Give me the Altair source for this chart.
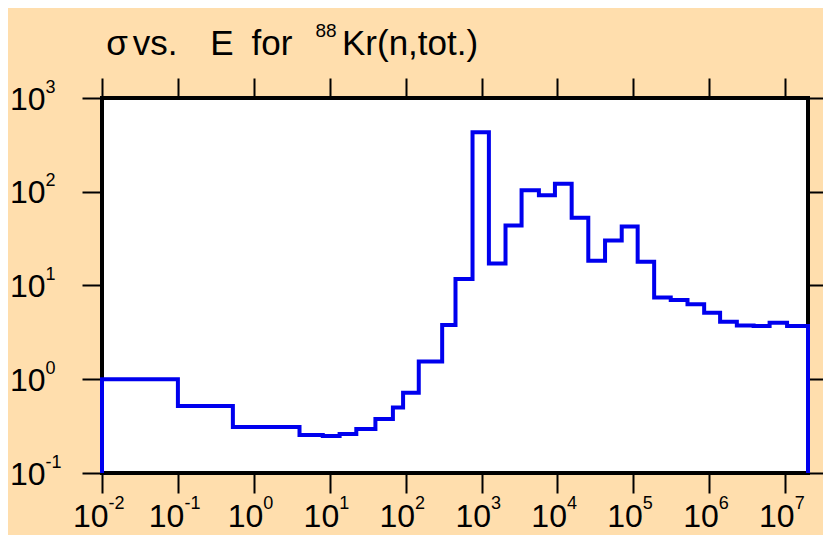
import altair as alt
import pandas as pd

# ---- data ----
# lower bin edges (eV) and total cross sections (b)
edges = [0.01, 0.1, 0.53, 4.0, 8.1, 13.5, 22.4, 40, 68, 92.6, 149, 303, 454, 761,
         1250, 2070, 3370, 5700, 9270, 15400, 25500, 42400, 70300, 114000, 188000,
         311000, 517000, 857000, 1.39e6, 2.31e6, 3.84e6, 6.24e6, 1.06e7]
sigma = [1.0, 0.52, 0.31, 0.254, 0.248, 0.26, 0.294, 0.377, 0.50, 0.72, 1.55, 3.78,
         11.7, 432, 17.2, 43.7, 104, 91.7, 122, 52.8, 18.4, 30.2, 42.6, 17.9, 7.43,
         7.02, 6.3, 5.13, 4.11, 3.75, 3.7, 4.0, 3.7]
e_max = 2e7
sigma_floor = 0.1

x_ticks = [1e-2, 1e-1, 1e0, 1e1, 1e2, 1e3, 1e4, 1e5, 1e6, 1e7]
x_exps = ["-2", "-1", "0", "1", "2", "3", "4", "5", "6", "7"]
y_ticks = [1e-1, 1e0, 1e1, 1e2, 1e3]
y_exps = ["-1", "0", "1", "2", "3"]

title_words = ["σ", "vs.", "E", "for"]
title_sup = "88"
title_rest = "Kr(n,tot.)"

# ---- styles ----
FONT = "Liberation Sans"
BG = "#FFDEAD"
LINE = "#0000EE"
W, H = 706, 375
word_x = [15, 53, 120, 170]
sup_x = 224
rest_x = 240

# step outline table
pts = [(edges[0], sigma_floor)] + list(zip(edges, sigma)) + [(e_max, sigma[-1]), (e_max, sigma_floor)]
df = pd.DataFrame(pts, columns=["E", "sigma"])
df["i"] = range(len(df))

xscale = alt.Scale(type="log", domain=[0.01, e_max], nice=False)
yscale = alt.Scale(type="log", domain=[0.1, 1000], nice=False)

def ax(orient, values):
    return alt.Axis(orient=orient, values=values, labels=False, ticks=True, tickSize=20,
                    tickWidth=2, tickColor="black", domain=False, grid=False, title=None)

line = alt.Chart(df).mark_line(interpolate="step-after", color=LINE, strokeWidth=4,
                               strokeJoin="miter", strokeCap="butt").encode(
    x=alt.X("E:Q", scale=xscale, axis=ax("bottom", x_ticks)),
    y=alt.Y("sigma:Q", scale=yscale, axis=ax("left", y_ticks)),
    order=alt.Order("i:Q"),
)

frame = alt.Chart(df).mark_point(opacity=0).encode(
    x=alt.X("E:Q", scale=xscale, axis=ax("top", x_ticks)),
    y=alt.Y("sigma:Q", scale=yscale, axis=ax("right", y_ticks)),
)

xl = pd.DataFrame({"v": x_ticks, "e": x_exps})
xl["neg"] = [e.startswith("-") for e in x_exps]
yl = pd.DataFrame({"v": y_ticks, "e": y_exps})

layers = [line, frame]
for neg, off in [(True, 6.5), (False, 9.5)]:
    base = alt.Chart(xl).transform_filter(alt.datum.neg == neg)
    layers.append(base.mark_text(font=FONT, fontSize=32, align="right", baseline="alphabetic",
                                 dx=off, color="black").encode(
        x=alt.X("v:Q", scale=xscale, axis=None), y=alt.value(429), text=alt.value("10")))
    layers.append(base.mark_text(font=FONT, fontSize=18, align="left", baseline="alphabetic",
                                 dx=off, color="black").encode(
        x=alt.X("v:Q", scale=xscale, axis=None), y=alt.value(411), text="e:N"))

layers.append(alt.Chart(yl).mark_text(font=FONT, fontSize=32, align="left", baseline="alphabetic",
                                      dy=11.5, color="black").encode(
    y=alt.Y("v:Q", scale=yscale, axis=None), x=alt.value(-92), text=alt.value("10")))
layers.append(alt.Chart(yl).mark_text(font=FONT, fontSize=18, align="left", baseline="alphabetic",
                                      dy=-5.5, color="black").encode(
    y=alt.Y("v:Q", scale=yscale, axis=None), x=alt.value(-56.5), text="e:N"))

for w, px in zip(title_words, word_x):
    layers.append(alt.Chart(pd.DataFrame({"t": [w]})).mark_text(
        font=FONT, fontSize=35, align="center", baseline="alphabetic", color="black").encode(
        x=alt.value(px), y=alt.value(-43), text="t:N"))
layers.append(alt.Chart(pd.DataFrame({"t": [title_sup]})).mark_text(
    font=FONT, fontSize=19, align="center", baseline="alphabetic", color="black").encode(
    x=alt.value(sup_x), y=alt.value(-61), text="t:N"))
layers.append(alt.Chart(pd.DataFrame({"t": [title_rest]})).mark_text(
    font=FONT, fontSize=35, align="left", baseline="alphabetic", color="black").encode(
    x=alt.value(rest_x), y=alt.value(-43), text="t:N"))

chart = alt.layer(*layers).resolve_axis(x="independent", y="independent").properties(
    width=W, height=H,
    autosize=alt.AutoSizeParams(type="none"),
    padding={"left": 94, "top": 90, "right": 15, "bottom": 62},
    background=BG,
).configure_view(stroke="black", strokeWidth=4, fill="white")

chart.save("out.html", embed_options={"renderer": "svg", "actions": False})
